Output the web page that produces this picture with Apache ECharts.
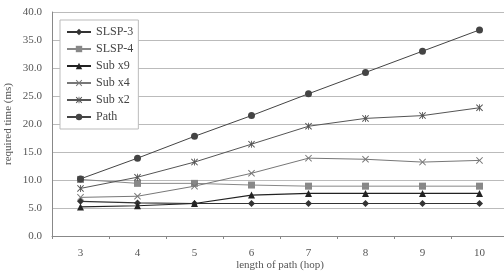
<!DOCTYPE html>
<html lang="en">
<head>
    <meta charset="UTF-8">
    <title>required time vs length of path</title>
    <script src="https://cdn.jsdelivr.net/npm/echarts@6/dist/echarts.min.js"></script>
    <style>
        html, body { margin: 0; padding: 0; background: #fff; }
    </style>
</head>
<body>
    <div id="main" style="width: 504px;height:272px;"></div>
    <script type="text/javascript">
        var hops = ['3', '4', '5', '6', '7', '8', '9', '10'];
        var slsp3 = [6.2, 5.9, 5.8, 5.8, 5.8, 5.8, 5.8, 5.8];
        var slsp4 = [10.1, 9.4, 9.4, 9.1, 8.9, 8.9, 8.9, 8.9];
        var subX9 = [5.2, 5.4, 5.8, 7.3, 7.6, 7.6, 7.6, 7.6];
        var subX4 = [6.9, 7.1, 8.9, 11.2, 13.9, 13.7, 13.2, 13.5];
        var subX2 = [8.5, 10.5, 13.2, 16.4, 19.6, 21.0, 21.5, 22.9];
        var path = [10.2, 13.9, 17.8, 21.5, 25.4, 29.2, 33.0, 36.8];

        var crossIcon = 'path://M0,1L1,0L5,4L9,0L10,1L6,5L10,9L9,10L5,6L1,10L0,9L4,5Z';
        var starIcon = 'path://M0,1L1,0L5,4L9,0L10,1L6,5L10,9L9,10L5,6L1,10L0,9L4,5Z M4.4,0L5.6,0L5.6,10L4.4,10Z';

        var font = '"Liberation Serif", "DejaVu Serif", serif';
        var myChart = echarts.init(document.getElementById('main'));

        function line(name, data, symbol, size, color, width) {
            return {
                name: name,
                type: 'line',
                data: data,
                symbol: symbol,
                symbolSize: size,
                showSymbol: true,
                lineStyle: { color: color, width: width },
                itemStyle: { color: color },
                emphasis: { disabled: true },
                animation: false
            };
        }

        var option = {
            backgroundColor: '#fff',
            textStyle: { fontFamily: font },
            grid: { left: 52, top: 12, width: 456, bottom: 36, outerBoundsMode: 'none', containLabel: false },
            legend: {
                orient: 'vertical',
                left: 60,
                top: 20,
                itemGap: 5,
                itemWidth: 24,
                itemHeight: 8,
                padding: [6, 5, 6, 6],
                borderColor: '#bbb',
                borderWidth: 1,
                backgroundColor: '#fff',
                textStyle: { fontFamily: font, fontSize: 12, color: '#444' },
                data: ['SLSP-3', 'SLSP-4', 'Sub x9', 'Sub x4', 'Sub x2', 'Path']
            },
            xAxis: {
                type: 'category',
                data: hops,
                boundaryGap: true,
                name: 'length of path (hop)',
                nameLocation: 'middle',
                nameGap: 24,
                nameMoveOverlap: false,
                nameTextStyle: { fontFamily: font, fontSize: 11, color: '#555' },
                axisLine: { lineStyle: { color: '#888' } },
                axisTick: { show: true, length: 3, lineStyle: { color: '#888' } },
                axisLabel: { fontFamily: font, fontSize: 11, color: '#555', margin: 12 }
            },
            yAxis: {
                type: 'value',
                min: 0,
                max: 40,
                interval: 5,
                name: 'required time (ms)',
                nameLocation: 'middle',
                nameGap: 38,
                nameMoveOverlap: false,
                nameTextStyle: { fontFamily: font, fontSize: 11, color: '#555' },
                axisLine: { show: true, lineStyle: { color: '#888' } },
                axisTick: { show: false },
                axisLabel: {
                    fontFamily: font, fontSize: 11, color: '#555', margin: 10,
                    formatter: function (v) { return v.toFixed(1); }
                },
                splitLine: { lineStyle: { color: '#bbb' } }
            },
            series: [
                line('SLSP-3', slsp3, 'diamond', 7, '#333', 1.2),
                line('SLSP-4', slsp4, 'rect', 7, '#888', 1),
                line('Sub x9', subX9, 'triangle', 7, '#222', 1.2),
                line('Sub x4', subX4, crossIcon, 7, '#777', 1),
                line('Sub x2', subX2, starIcon, 7, '#555', 1),
                line('Path', path, 'circle', 7, '#444', 1)
            ]
        };

        myChart.setOption(option);
    </script>
</body>
</html>
